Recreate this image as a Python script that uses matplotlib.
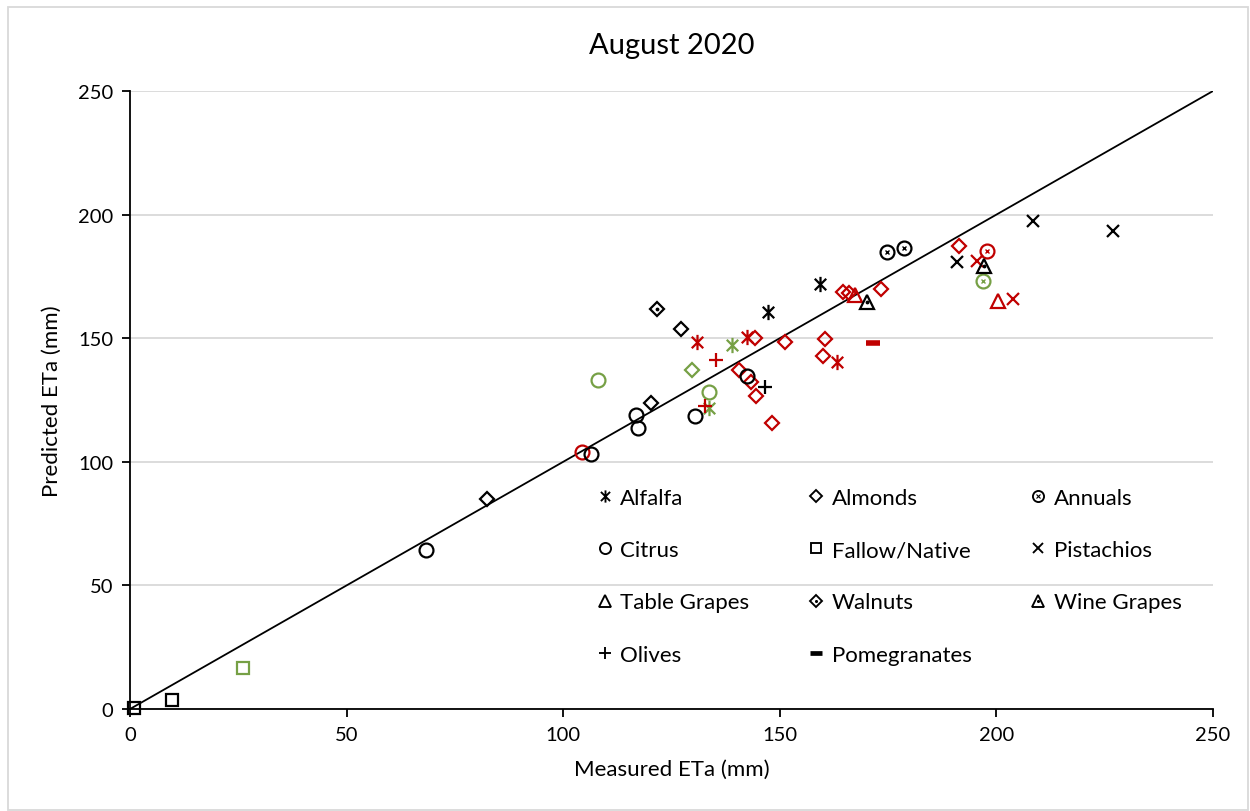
import numpy as np
import matplotlib
matplotlib.use("Agg")
import matplotlib.pyplot as plt
from matplotlib.path import Path
from matplotlib.lines import Line2D
from matplotlib.patches import Rectangle

plt.rcParams['font.family'] = ['Lato', 'DejaVu Sans']

# Farben: k = schwarz, r = rot, g = gruen
farben = {'k': '#000000', 'r': '#C00000', 'g': '#76A045'}

# Daten
alfalfa_x = [159.3, 147.3, 130.9, 142.4, 139.0, 133.7, 163.2]
alfalfa_y = [171.9, 160.6, 148.5, 150.5, 147.2, 121.8, 140.4]
alfalfa_c = ['k', 'k', 'r', 'r', 'g', 'g', 'r']

almonds_x = [82.4, 120.3, 127.2, 129.7, 140.6, 143.4, 144.5, 148.2, 144.3, 151.2,
             160.4, 160.0, 164.6, 166.0, 173.4, 191.4]
almonds_y = [85.0, 123.8, 153.7, 137.1, 137.1, 132.3, 126.6, 115.7, 150.1, 148.5,
             149.7, 142.8, 168.7, 168.3, 169.9, 187.3]
almonds_c = ['k', 'k', 'k', 'g', 'r', 'r', 'r', 'r', 'r', 'r',
             'r', 'r', 'r', 'r', 'r', 'r']

annuals_x = [174.7, 178.7, 197.8, 196.9]
annuals_y = [184.9, 186.5, 185.3, 173.1]
annuals_c = ['k', 'k', 'r', 'g']

citrus_x = [68.3, 104.3, 106.4, 116.8, 117.3, 108.0, 130.4, 133.7, 142.4]
citrus_y = [64.3, 104.0, 103.2, 118.9, 113.7, 133.1, 118.5, 128.2, 134.7]
citrus_c = ['k', 'r', 'k', 'k', 'k', 'g', 'k', 'g', 'k']

fallow_x = [0.9, 9.7, 26.1]
fallow_y = [0.4, 3.6, 16.6]
fallow_c = ['k', 'k', 'g']

pistachios_x = [190.9, 195.5, 203.8, 208.4, 226.9]
pistachios_y = [180.8, 181.2, 165.9, 197.4, 193.4]
pistachios_c = ['k', 'r', 'r', 'k', 'k']

tablegrapes_x = [167.4, 200.4]
tablegrapes_y = [167.5, 165.0]
tablegrapes_c = ['r', 'r']

walnuts_x = [121.7]
walnuts_y = [161.8]
walnuts_c = ['k']

winegrapes_x = [170.1, 197.1]
winegrapes_y = [164.6, 179.2]
winegrapes_c = ['k', 'k']

olives_x = [135.3, 132.8, 146.6]
olives_y = [141.2, 122.4, 130.3]
olives_c = ['r', 'r', 'k']

pomegranates_x = [171.5]
pomegranates_y = [148.1]
pomegranates_c = ['r']

# Sternchen-Marker wie in Excel (x mit senkrechtem Strich)
stern = Path([(0, -1), (0, 1), (-0.75, -0.75), (0.75, 0.75), (-0.75, 0.75), (0.75, -0.75)],
             [Path.MOVETO, Path.LINETO, Path.MOVETO, Path.LINETO, Path.MOVETO, Path.LINETO])

# Name, x, y, Farben, Marker, Groesse, innerer Marker
kulturen = [
    ('Alfalfa', alfalfa_x, alfalfa_y, alfalfa_c, stern, 11, None),
    ('Almonds', almonds_x, almonds_y, almonds_c, 'D', 7.5, None),
    ('Annuals', annuals_x, annuals_y, annuals_c, 'o', 10, 'x'),
    ('Citrus', citrus_x, citrus_y, citrus_c, 'o', 10, None),
    ('Fallow/Native', fallow_x, fallow_y, fallow_c, 's', 9, None),
    ('Pistachios', pistachios_x, pistachios_y, pistachios_c, 'x', 9, None),
    ('Table Grapes', tablegrapes_x, tablegrapes_y, tablegrapes_c, '^', 10, None),
    ('Walnuts', walnuts_x, walnuts_y, walnuts_c, 'D', 7.5, '.'),
    ('Wine Grapes', winegrapes_x, winegrapes_y, winegrapes_c, '^', 10, '.'),
    ('Olives', olives_x, olives_y, olives_c, '+', 10, None),
    ('Pomegranates', pomegranates_x, pomegranates_y, pomegranates_c, '_', 10, None),
]

fig = plt.figure(figsize=(12.5, 8.12), dpi=100)
ax = fig.add_axes([0.104, 0.1256, 0.8664, 0.7611])

# 1:1 Linie
ax.plot([0, 250], [0, 250], color='black', lw=1.3, zorder=2)

handles = {}
for name, xs, ys, cs, m, ms, inner in kulturen:
    mew = 4 if m == '_' else 1.6
    for x, y, c in zip(xs, ys, cs):
        ax.plot(x, y, linestyle='none', marker=m, markersize=ms, markerfacecolor='none',
                markeredgecolor=farben[c], markeredgewidth=mew, zorder=3, clip_on=False)
        if inner is not None:
            ax.plot(x, y, linestyle='none', marker=inner, markersize=3.5,
                    color=farben[c], markeredgewidth=1, zorder=3)
    h = Line2D([], [], linestyle='none', marker=m, markersize=ms * 0.8,
               markerfacecolor='none', markeredgecolor='black',
               markeredgewidth=mew * 0.85)
    if inner is not None:
        h = (h, Line2D([], [], linestyle='none', marker=inner, markersize=2.8,
                       color='black', markeredgewidth=0.8))
    handles[name] = h

ax.set_xlim(0, 250)
ax.set_ylim(0, 250)
ax.set_xticks(np.arange(0, 251, 50))
ax.set_yticks(np.arange(0, 251, 50))
ax.yaxis.grid(True, color='#D9D9D9', lw=1.3)
ax.set_axisbelow(True)
for s in ['top', 'right']:
    ax.spines[s].set_visible(False)
for s in ['left', 'bottom']:
    ax.spines[s].set_linewidth(1.3)
ax.tick_params(axis='both', direction='out', length=6, width=1.3, labelsize=14.5, pad=6)

ax.set_title('August 2020', fontsize=21, pad=27)
ax.set_xlabel('Measured ETa (mm)', fontsize=16, labelpad=12)
ax.set_ylabel('Predicted ETa (mm)', fontsize=16, labelpad=12)

# Legende spaltenweise (matplotlib fuellt Spalten zuerst)
reihenfolge = ['Alfalfa', 'Citrus', 'Table Grapes', 'Olives',
               'Almonds', 'Fallow/Native', 'Walnuts', 'Pomegranates',
               'Annuals', 'Pistachios', 'Wine Grapes']
ax.legend([handles[n] for n in reihenfolge], reihenfolge, ncol=3, frameon=False, fontsize=16,
          loc='upper left', bbox_to_anchor=(0.42, 0.372),
          columnspacing=2.5, labelspacing=1.45, handletextpad=0.2, handlelength=1.0,
          borderaxespad=0)

# Rahmen um das Diagramm
fig.patches.append(Rectangle((0.0064, 0.001), 0.992, 0.9888, transform=fig.transFigure,
                             fill=False, edgecolor='#D9D9D9', lw=1.3))

fig.savefig('out.png', dpi=100)
